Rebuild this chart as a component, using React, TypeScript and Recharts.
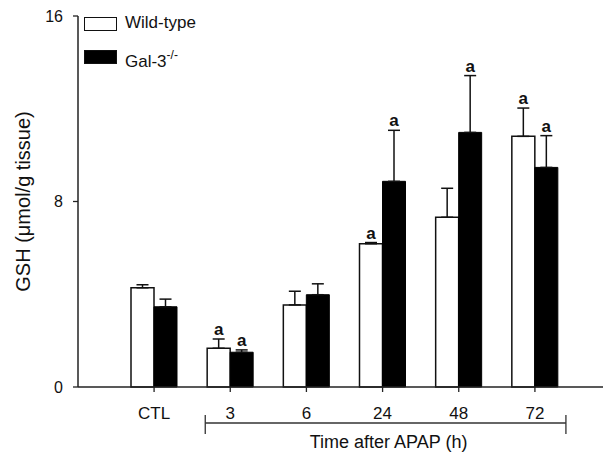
import React from 'react';
import { BarChart, Bar, XAxis, YAxis, ErrorBar, Legend, LabelList } from 'recharts';

const categories = ['CTL', '3', '6', '24', '48', '72'];
const wildTypeMean = [4.28, 1.67, 3.54, 6.18, 7.32, 10.81];
const wildTypeErr = [0.13, 0.4, 0.59, 0.05, 1.25, 1.22];
const gal3Mean = [3.46, 1.5, 3.98, 8.87, 10.98, 9.47];
const gal3Err = [0.33, 0.1, 0.47, 2.2, 2.45, 1.37];
const wildTypeSig = ['', 'a', '', 'a', '', 'a'];
const gal3Sig = ['', 'a', '', 'a', 'a', 'a'];
const yTicks = [0, 8, 16];
const seriesNames = ['Wild-type', 'Gal-3^-/-'];
const seriesFills = ['#ffffff', '#000000'];
const yLabel = 'GSH (\u03bcmol/g tissue)';
const xTitle = 'Time after APAP (h)';

const data = categories.map((c, i) => ({
  cat: c,
  wt: wildTypeMean[i],
  wtErr: [0, wildTypeErr[i]],
  wtSig: wildTypeSig[i],
  ko: gal3Mean[i],
  koErr: [0, gal3Err[i]],
  koSig: gal3Sig[i],
}));

const FONT = '"Liberation Sans", Arial, Helvetica, sans-serif';
const PAD_L = 38;
const PAD_R = 30;

const makeSigLabel = (means: number[], errs: number[]) => (props: any) => {
  const vb = props.viewBox || props;
  const { x, y, width, height } = vb;
  const idx = props.index;
  const v = props.value;
  if (!v || idx == null) return null;
  const mean = means[idx];
  const pxPerUnit = height / mean;
  const top = y - errs[idx] * pxPerUnit;
  return (
    <text
      x={x + width / 2}
      y={top - 4}
      textAnchor="middle"
      fontFamily={FONT}
      fontSize={17}
      fontWeight={700}
      fill="#111"
    >
      {v}
    </text>
  );
};

const renderName = (name: string) => {
  const parts = name.split('^');
  if (parts.length === 1) return <span>{name}</span>;
  return (
    <span>
      {parts[0]}
      <sup style={{ fontSize: 12, position: 'relative', top: -1 }}>{parts[1]}</sup>
    </span>
  );
};

const LegendContent = (props: any) => {
  const payload = [...(props.payload || [])].sort(
    (a: any, b: any) => seriesNames.indexOf(a.value) - seriesNames.indexOf(b.value)
  );
  return (
    <div style={{ position: 'relative', fontFamily: FONT, fontSize: 17, color: '#111' }}>
      {payload.map((entry: any, i: number) => (
        <div key={i} style={{ position: 'relative', height: 15, marginBottom: i === 0 ? 18 : 0, width: 160 }}>
          <div
            style={{
              position: 'absolute',
              left: 0,
              top: 0,
              width: 31,
              height: 12,
              border: '1.5px solid #111',
              background: seriesFills[seriesNames.indexOf(entry.value)] || '#fff',
            }}
          />
          <div style={{ position: 'absolute', left: 41, top: -4, lineHeight: '20px', whiteSpace: 'nowrap' }}>
            {renderName(entry.value)}
          </div>
        </div>
      ))}
    </div>
  );
};

const BracketLabel = (props: any) => {
  const vb = props.viewBox || {};
  const { x, y, width } = vb;
  if (x == null) return null;
  const band = (width - PAD_L - PAD_R) / categories.length;
  const center = (k: number) => x + PAD_L + band * (k + 0.5);
  const x1 = center(1) - 25;
  const x2 = center(5) + 31;
  const ly = y + 36;
  return (
    <g>
      <line x1={x1} y1={ly} x2={x2} y2={ly} stroke="#333" strokeWidth={1.3} />
      <line x1={x1} y1={ly - 8} x2={x1} y2={ly + 11} stroke="#333" strokeWidth={1.3} />
      <line x1={x2} y1={ly - 8} x2={x2} y2={ly + 11} stroke="#333" strokeWidth={1.3} />
      <text x={(x1 + x2) / 2 + 3} y={y + 61} textAnchor="middle" fontFamily={FONT} fontSize={18} fill="#111">
        {xTitle}
      </text>
    </g>
  );
};

const YLabel = (props: any) => {
  const vb = props.viewBox || {};
  const cy = vb.y + vb.height / 2;
  const cx = 23;
  return (
    <text
      x={cx}
      y={cy}
      transform={`rotate(-90, ${cx}, ${cy})`}
      textAnchor="middle"
      dominantBaseline="central"
      fontFamily={FONT}
      fontSize={20}
      fill="#111"
    >
      {yLabel}
    </text>
  );
};

export default function App() {
  return (
    <div style={{ width: 606, height: 453, background: '#fff' }}>
      <style>{'body{margin:0;overflow:hidden;background:#fff}'}</style>
      <BarChart
        width={606}
        height={453}
        data={data}
        margin={{ top: 16, right: 3, bottom: 0, left: 0 }}
        barGap={0}
        barSize={23}
      >
        <XAxis
          dataKey="cat"
          height={66}
          padding={{ left: PAD_L, right: PAD_R }}
          axisLine={{ stroke: '#222', strokeWidth: 1.5 }}
          tickLine={{ stroke: '#222', strokeWidth: 1.3 }}
          tickSize={5}
          tickMargin={15}
          tick={{ fontFamily: FONT, fontSize: 17, fill: '#111' }}
          label={BracketLabel}
        />
        <YAxis
          width={78}
          domain={[0, 16]}
          ticks={yTicks}
          interval={0}
          axisLine={{ stroke: '#222', strokeWidth: 1.5 }}
          tickLine={{ stroke: '#222', strokeWidth: 1.3 }}
          tickSize={5}
          tickMargin={10}
          tick={{ fontFamily: FONT, fontSize: 16, fill: '#111' }}
          label={YLabel}
        />
        <Legend
          layout="horizontal"
          verticalAlign="middle"
          align="center"
          content={LegendContent}
          wrapperStyle={{ position: 'absolute', left: 84, top: 17, width: 200, height: 60 }}
        />
        <Bar dataKey="wt" name={seriesNames[0]} fill={seriesFills[0]} stroke="#111" strokeWidth={1.5} isAnimationActive={false}>
          <ErrorBar dataKey="wtErr" width={6} stroke="#111" strokeWidth={1.5} direction="y" />
          <LabelList dataKey="wtSig" content={makeSigLabel(wildTypeMean, wildTypeErr)} />
        </Bar>
        <Bar dataKey="ko" name={seriesNames[1]} fill={seriesFills[1]} stroke="#000" strokeWidth={1} isAnimationActive={false}>
          <ErrorBar dataKey="koErr" width={6} stroke="#111" strokeWidth={1.5} direction="y" />
          <LabelList dataKey="koSig" content={makeSigLabel(gal3Mean, gal3Err)} />
        </Bar>
      </BarChart>
    </div>
  );
}
